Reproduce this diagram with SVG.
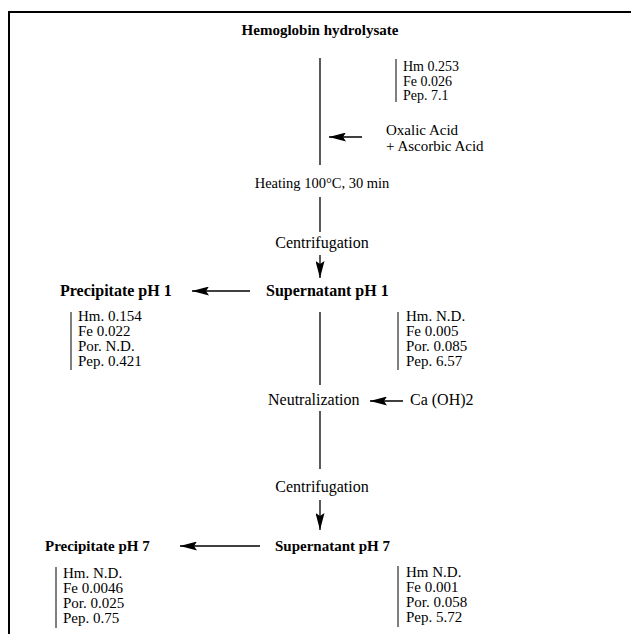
<svg xmlns="http://www.w3.org/2000/svg" width="631" height="634" viewBox="0 0 631 634">
<style>
text{font-family:"Liberation Serif","Times New Roman",serif;fill:#000}
.b{font-weight:bold;font-size:15px}
.b16{font-weight:bold;font-size:16px}
.l{font-size:14.5px}
.l15{font-size:15px}
.l16{font-size:16px}
.d14{font-size:14px}
.d15{font-size:15px}
.ln{stroke:#000;stroke-width:1.3;fill:none}
.br{stroke:#000;stroke-width:1;fill:none}
</style>
<defs>
<marker id="ah" markerWidth="17" markerHeight="9" refX="17" refY="4.5" orient="auto" markerUnits="userSpaceOnUse">
<path d="M0,0 L17,4.5 L0,9 L3,4.5 Z" fill="#000"/>
</marker>
</defs>
<g id="frame">
<line x1="9" y1="12" x2="631" y2="12" stroke="#000" stroke-width="2"/>
<line x1="9" y1="11" x2="9" y2="634" stroke="#000" stroke-width="2"/>
</g>
<g id="connectors">
<line class="ln" x1="320" y1="58" x2="320" y2="165"/>
<line class="ln" x1="320" y1="197" x2="320" y2="232"/>
<line class="ln" x1="320" y1="255" x2="320" y2="278" marker-end="url(#ah)"/>
<line class="ln" x1="362" y1="137" x2="329" y2="137" stroke-width="2" marker-end="url(#ah)"/>
<line class="ln" x1="250" y1="291" x2="192" y2="291" marker-end="url(#ah)"/>
<line class="ln" x1="320" y1="312" x2="320" y2="385"/>
<line class="ln" x1="403" y1="401" x2="370" y2="401" stroke-width="2" marker-end="url(#ah)"/>
<line class="ln" x1="320" y1="411" x2="320" y2="469"/>
<line class="ln" x1="320" y1="500" x2="320" y2="530" marker-end="url(#ah)"/>
<line class="ln" x1="260" y1="546" x2="180" y2="546" marker-end="url(#ah)"/>
</g>
<g id="hydrolysate">
<text class="b" x="320" y="35" text-anchor="middle">Hemoglobin hydrolysate</text>
</g>
<g id="data-hydrolysate">
<line class="br" x1="396" y1="59" x2="396" y2="102"/>
<text class="d14" x="403" y="71">Hm 0.253</text>
<text class="d14" x="403" y="85.5">Fe 0.026</text>
<text class="d14" x="403" y="100">Pep. 7.1</text>
</g>
<g id="acids">
<text class="l15" x="386" y="135">Oxalic Acid</text>
<text class="l15" x="386" y="151">+ Ascorbic Acid</text>
</g>
<g id="heating">
<text class="l" x="322" y="188" text-anchor="middle">Heating 100°C, 30 min</text>
</g>
<g id="centrifugation1">
<text class="l16" x="322" y="248" text-anchor="middle">Centrifugation</text>
</g>
<g id="supernatant1">
<text class="b16" x="266" y="296">Supernatant pH 1</text>
</g>
<g id="precipitate1">
<text class="b16" x="60" y="296">Precipitate pH 1</text>
</g>
<g id="data-precipitate1">
<line class="br" x1="71" y1="312" x2="71" y2="370"/>
<text class="d15" x="78" y="321">Hm. 0.154</text>
<text class="d15" x="78" y="336">Fe 0.022</text>
<text class="d15" x="78" y="351">Por. N.D.</text>
<text class="d15" x="78" y="366">Pep. 0.421</text>
</g>
<g id="data-supernatant1">
<line class="br" x1="398" y1="312" x2="398" y2="370"/>
<text class="d15" x="406" y="321">Hm. N.D.</text>
<text class="d15" x="406" y="336">Fe 0.005</text>
<text class="d15" x="406" y="351">Por. 0.085</text>
<text class="d15" x="406" y="366">Pep. 6.57</text>
</g>
<g id="neutralization">
<text class="l16" x="268" y="405">Neutralization</text>
</g>
<g id="caoh">
<text class="l16" x="410" y="405">Ca (OH)2</text>
</g>
<g id="centrifugation2">
<text class="l16" x="322" y="492" text-anchor="middle">Centrifugation</text>
</g>
<g id="supernatant7">
<text class="b" x="275" y="551">Supernatant pH 7</text>
</g>
<g id="precipitate7">
<text class="b" x="45" y="551">Precipitate pH 7</text>
</g>
<g id="data-precipitate7">
<line class="br" x1="56" y1="567" x2="56" y2="628"/>
<text class="d15" x="63" y="578">Hm. N.D.</text>
<text class="d15" x="63" y="593">Fe 0.0046</text>
<text class="d15" x="63" y="608">Por. 0.025</text>
<text class="d15" x="63" y="623">Pep. 0.75</text>
</g>
<g id="data-supernatant7">
<line class="br" x1="398" y1="566" x2="398" y2="627"/>
<text class="d15" x="406" y="577">Hm N.D.</text>
<text class="d15" x="406" y="592">Fe 0.001</text>
<text class="d15" x="406" y="607">Por. 0.058</text>
<text class="d15" x="406" y="622">Pep. 5.72</text>
</g>
</svg>
